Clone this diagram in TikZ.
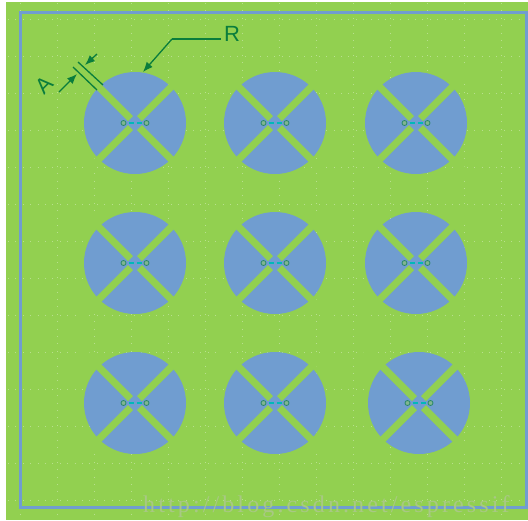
\documentclass[tikz,border=0pt]{standalone}
\usepackage{fontspec}
\usepackage{tikz}
\usetikzlibrary{arrows.meta}
\newfontfamily\labelfont{Liberation Sans}
\newfontfamily\markfont[LetterSpace=13]{Liberation Serif}
\definecolor{boardgreen}{RGB}{146,208,80}
\definecolor{patchblue}{RGB}{112,157,208}
\definecolor{dimgreen}{RGB}{10,125,60}
\definecolor{feedteal}{RGB}{0,185,185}
\definecolor{markgray}{RGB}{168,200,132}
\tikzset{
griddot/.style={white,opacity=.35,line width=1pt,dash pattern=on 1pt off 6.4pt},
dimline/.style={dimgreen,line width=1.3pt},
dimarrow/.style={dimgreen,line width=1.3pt,-{Latex[length=10pt,width=8pt]}},
slot/.style={fill=boardgreen,draw=none},
port/.style={circle,draw=dimgreen!70!patchblue,fill=boardgreen!50!patchblue,line width=.8pt,inner sep=0pt,minimum size=5pt},
dimlabel/.style={dimgreen,font=\labelfont\fontsize{22}{22}\selectfont,inner sep=0pt},
}
\newcommand{\patch}[3]{
\fill[patchblue] (#1,#2) circle (51);
\foreach \sx/\sy in {1/1,1/-1,-1/1,-1/-1}
  \fill[slot] (#1+2*\sx,#2+7*\sy) -- (#1+7*\sx,#2+2*\sy) -- (#1+57*\sx,#2+52*\sy) -- (#1+52*\sx,#2+57*\sy) -- cycle;
\node[port] (#3l) at (#1-11.5,#2) {};
\node[port] (#3r) at (#1+11.5,#2) {};
\draw[feedteal,line width=2.2pt,dash pattern=on 5pt off 3pt,dash phase=5.5pt] (#3l) -- (#3r);
}
\begin{document}
\begin{tikzpicture}[x=1pt,y=-1pt]
\useasboundingbox (0,0) rectangle (528,520);
\fill[boardgreen] (6,2) rectangle (528,519.5);
% dots
\foreach \y in {19,56,...,500}
  \draw[griddot] (8,\y) -- (528,\y);
\foreach \x in {20,57,...,520}
  \draw[griddot] (\x,3) -- (\x,518);
\draw[patchblue,line width=3.3pt] (20.5,12.7) rectangle (526.5,507.7);
% patches
\patch{135}{123}{pa}
\patch{275}{123}{pb}
\patch{416}{123}{pc}
\patch{135}{263}{pd}
\patch{275}{263}{pe}
\patch{416}{263}{pf}
\patch{135}{403}{pg}
\patch{275}{403}{ph}
\patch{419}{403}{pi}
% dimensions
\node[dimlabel] (labelr) at (232,34) {R};
\coordinate (bendr) at (172,39);
\coordinate (tipr) at (143,72);
\draw[dimline] (labelr.west |- bendr) ++(-3,0) coordinate (startr) -- (bendr);
\draw[dimarrow] (bendr) -- (tipr);
\node[dimlabel,rotate=45] (labela) at (44,85) {A};
\coordinate (taila) at (59,92);
\coordinate (tipa) at (77,74);
\coordinate (tailb) at (97,54);
\coordinate (tipb) at (85,65);
\draw[dimarrow] (taila) -- (tipa);
\draw[dimarrow] (tailb) -- (tipb);
\coordinate (exta) at (73,67);
\coordinate (enda) at (97,90);
\coordinate (extb) at (78,62);
\coordinate (endb) at (103,85);
\draw[dimline] (exta) -- (enda);
\draw[dimline] (extb) -- (endb);
% watermark
\node[markgray,anchor=base west,font=\markfont\fontsize{24}{24}\selectfont,inner sep=0pt] (mark) at (143,512.5) {http://blog.csdn.net/espressif};
\end{tikzpicture}
\end{document}
